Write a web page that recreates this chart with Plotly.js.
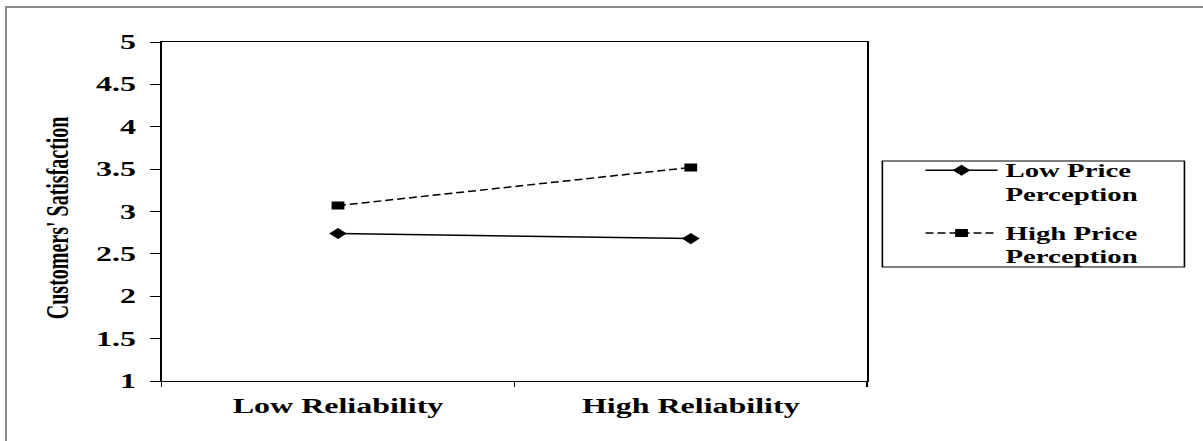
<!DOCTYPE html>
<html>
<head>
<meta charset="utf-8">
<script src="https://cdn.plot.ly/plotly-3.0.1.min.js"></script>
<style>
  html, body { margin: 0; padding: 0; background: #fff; overflow: hidden; }
  #wrap { position: relative; width: 1203px; height: 441px; overflow: hidden; }
  #chart { position: absolute; left: 0; top: 0; width: 752px; height: 441px;
           transform: scaleX(1.6); transform-origin: 0 0; }
  #frame { position: absolute; left: 5px; top: 6px; width: 1300px; height: 500px;
           border-top: 2px solid #8c8c8c; border-left: 2px solid #8c8c8c; pointer-events: none; }
</style>
</head>
<body>
<div id="wrap">
  <div id="chart"></div>
  <div id="frame"></div>
</div>
<script>
const categories = ["Low Reliability", "High Reliability"];
const seriesNames = ["Low Price<br>Perception", "High Price<br>Perception"];
const lowPrice = [2.74, 2.68];
const highPrice = [3.07, 3.52];
const yTicks = [1, 1.5, 2, 2.5, 3, 3.5, 4, 4.5, 5];
const yTitle = "Customers' Satisfaction";

const fontFam = "'Liberation Serif', 'Times New Roman', serif";

const traces = [
  {
    x: categories, y: lowPrice, name: seriesNames[0], type: 'scatter', mode: 'lines+markers',
    legendgroup: 'a',
    line: { color: '#000', width: 1.5, dash: 'solid' },
    marker: { symbol: 'diamond', size: 8.5, color: '#000' }
  },
  {
    x: categories, y: highPrice, name: seriesNames[1], type: 'scatter', mode: 'lines+markers',
    legendgroup: 'b',
    line: { color: '#000', width: 1.5, dash: '5px,2.5px' },
    marker: { symbol: 'square', size: 8, color: '#000' }
  }
];

const layout = {
  width: 752, height: 441,
  margin: { l: 101, r: 209.5, t: 42, b: 60 },
  paper_bgcolor: '#fff', plot_bgcolor: '#fff',
  showlegend: true,
  font: { family: fontFam, color: '#000', size: 18, weight: 700 },
  xaxis: {
    type: 'category',
    range: [-0.5, 1.5],
    showline: true, mirror: true, linecolor: '#000', linewidth: 1,
    showgrid: false, zeroline: false,
    ticks: 'outside', tickson: 'boundaries', ticklen: 5, tickcolor: '#000', tickwidth: 1,
    ticklabelstandoff: 7,
    tickfont: { family: fontFam, size: 20, weight: 700, color: '#000' },
    fixedrange: true
  },
  yaxis: {
    range: [1, 5],
    tickvals: yTicks,
    ticktext: yTicks.map(v => String(v)),
    showline: true, mirror: true, linecolor: '#000', linewidth: 1,
    showgrid: false, zeroline: false,
    ticks: 'outside', ticklen: 6, tickcolor: '#000', tickwidth: 1,
    ticklabelstandoff: 5,
    tickfont: { family: fontFam, size: 20, weight: 700, color: '#000' },
    fixedrange: true
  },
  annotations: [
    {
      text: yTitle, textangle: -90, showarrow: false,
      xref: 'paper', yref: 'paper', x: -0.149, y: 0.481, xanchor: 'center', yanchor: 'middle',
      font: { family: fontFam, size: 20, weight: 700, color: '#000' }
    }
  ],
  shapes: [
    {
      type: 'rect', xref: 'paper', yref: 'paper',
      x0: 1.0215, x1: 1.4496, y0: 0.3363, y1: 0.649,
      line: { color: '#000', width: 1 }, fillcolor: 'rgba(0,0,0,0)'
    }
  ],
  legend: {
    x: 1.0713, xanchor: 'left', y: 0.6755, yanchor: 'top',
    borderwidth: 0, bgcolor: 'rgba(0,0,0,0)',
    font: { family: fontFam, size: 18, weight: 700, color: '#000' },
    valign: 'top', itemwidth: 45, tracegroupgap: 13,
    traceorder: 'grouped'
  }
};

Plotly.newPlot('chart', traces, layout, { displayModeBar: false, staticPlot: true });
</script>
</body>
</html>
